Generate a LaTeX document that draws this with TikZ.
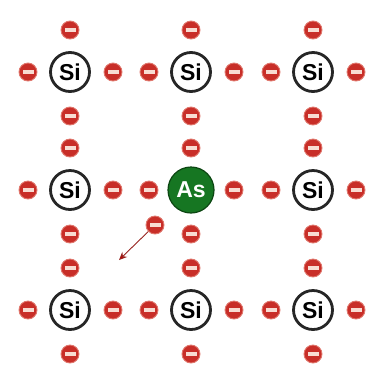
\documentclass[tikz,border=0pt]{standalone}
\usepackage{fontspec}
\setmainfont{Liberation Sans}
\usetikzlibrary{arrows.meta}
\definecolor{elecred}{RGB}{200,46,40}
\definecolor{elecedge}{RGB}{224,120,110}
\definecolor{elecbar}{RGB}{248,220,210}
\definecolor{asgreen}{RGB}{22,118,34}
\definecolor{asedge}{RGB}{12,70,18}
\definecolor{ringgray}{RGB}{38,38,38}
\definecolor{arrowred}{RGB}{150,34,30}
\tikzset{
  electron/.style={circle, fill=elecred, draw=elecedge, line width=0.9pt,
    minimum size=18pt, inner sep=0pt,
    path picture={\fill[elecbar] ([xshift=-5.5pt,yshift=-1.8pt]path picture bounding box.center)
      rectangle ([xshift=5.5pt,yshift=1.8pt]path picture bounding box.center);}},
  siatom/.style={circle, fill=white, draw=ringgray, line width=2.8pt,
    minimum size=39pt, inner sep=0pt, font=\fontsize{23}{23}\selectfont\bfseries},
  asatom/.style={circle, fill=asgreen, draw=asedge, line width=1.2pt,
    minimum size=46pt, inner sep=0pt, text=white,
    font=\fontsize{23}{23}\selectfont\bfseries},
  drift/.style={draw=arrowred, line width=0.9pt,
    -{Stealth[length=8pt,width=7pt,fill=red!80!black]}},
}
\begin{document}
\begin{tikzpicture}[x=1pt,y=-1pt]
  \useasboundingbox (0,0) rectangle (371,365);
  % lattice atoms
  \foreach \c/\x in {1/70,2/191,3/313}{
    \foreach \r/\y in {1/72,2/190,3/310}{
      \ifnum\c\r=22
        \node[asatom] (a\c\r) at (\x,\y) {As};
      \else
        \node[siatom] (a\c\r) at (\x,\y) {Si};
      \fi
      % bonding electrons around each atom
      \node[electron] (l\c\r) at (\x-42,\y) {};
      \node[electron] (r\c\r) at (\x+43,\y) {};
      \node[electron] (t\c\r) at (\x,\y-42) {};
      \node[electron] (b\c\r) at (\x,\y+44) {};
    }
  }
  % the fifth electron of arsenic, free to drift
  \node[electron] (free) at (155,225) {};
  \coordinate (drifttip) at (119,260);
  \draw[drift] (free) -- (drifttip);
\end{tikzpicture}
\end{document}
